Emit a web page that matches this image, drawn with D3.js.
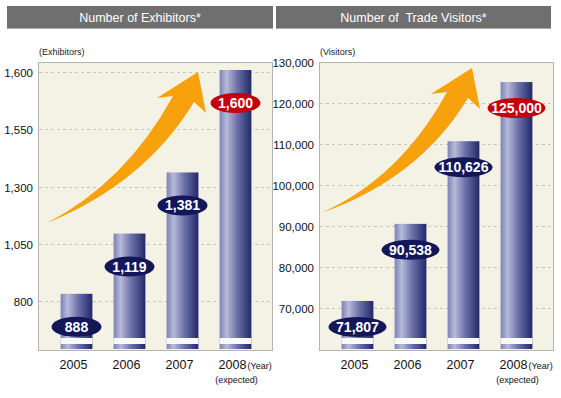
<!DOCTYPE html>
<html>
<head>
<meta charset="utf-8">
<script src="https://cdn.jsdelivr.net/npm/d3@7"></script>
<style>
  body { margin: 0; background: #fff; }
  text { font-family: "Liberation Sans", Arial, sans-serif; }
</style>
</head>
<body>
<svg id="chart" width="561" height="398"></svg>
<script>
const years = ['2005', '2006', '2007', '2008'];
const exhibitors = [888, 1119, 1381, 1600];
const visitors = [71807, 90538, 110626, 125000];
const exhibitorTicks = ['800', '1,050', '1,300', '1,550', '1,600'];
const visitorTicks = [70000, 80000, 90000, 100000, 110000, 120000, 130000];

const svg = d3.select('#chart');
const fmt = d3.format(',');

// bar gradient (cylinder look)
const defs = svg.append('defs');
const grad = defs.append('linearGradient').attr('id', 'barGrad');
[['0%', '#7c82b4'], ['22%', '#b7bad8'], ['55%', '#6c72a8'], ['100%', '#222868']].forEach((s) => {
  grad.append('stop').attr('offset', s[0]).attr('stop-color', s[1]);
});

function drawChart(opt) {
  const left = opt.left;
  const right = left + 234;
  const top = 62;
  const bottom = 350;
  const g = svg.append('g');

  // header
  g.append('rect')
    .attr('x', opt.headX).attr('y', 6)
    .attr('width', opt.headW).attr('height', 23)
    .attr('fill', '#6f6f6f');
  g.append('rect')
    .attr('x', opt.headX).attr('y', 28)
    .attr('width', opt.headW).attr('height', 1)
    .attr('fill', '#a8a8a8');
  g.append('text')
    .attr('x', opt.headX + opt.headW / 2).attr('y', 21.5)
    .attr('text-anchor', 'middle')
    .attr('font-size', 12.5)
    .attr('fill', '#fff')
    .style('white-space', 'pre')
    .text(opt.title);

  // plot area
  g.append('rect')
    .attr('x', left + 0.5).attr('y', top + 0.5)
    .attr('width', right - left).attr('height', bottom - top)
    .attr('fill', '#f4f2e4')
    .attr('stroke', '#b4b4b0');

  g.append('text')
    .attr('x', left + 1).attr('y', 55)
    .attr('font-size', 9)
    .attr('fill', '#222')
    .text(opt.unit);

  // gridlines + tick labels
  opt.ticks.forEach((t) => {
    const y = Math.round(opt.tickY(t)) + 0.5;
    if (y > top + 3) {
      g.append('line')
        .attr('x1', left + 1).attr('x2', right)
        .attr('y1', y).attr('y2', y)
        .attr('stroke', '#c9c7bb')
        .attr('stroke-dasharray', '3,3');
    }
    g.append('text')
      .attr('x', left - 5).attr('y', y)
      .attr('dy', '0.36em')
      .attr('text-anchor', 'end')
      .attr('font-size', 11.5)
      .attr('fill', '#111')
      .text(typeof t === 'number' ? fmt(t) : t);
  });

  const x = d3.scaleBand()
    .domain(years)
    .range([left + 12, left + 224])
    .paddingInner(0.4)
    .paddingOuter(0.2);

  // growth arrow
  const ax = left + opt.arrowDx;
  const ay = top + opt.arrowDy;
  const tx = ax + 9;
  const ty = ay + 161 + opt.tailDy;
  const p = d3.path();
  p.moveTo(tx, ty);
  p.quadraticCurveTo(ax + 88, ay + 120, ax + 135, ay + 34);
  p.lineTo(ax + 119, ay + 36);
  p.lineTo(ax + 160, ay + 10);
  p.lineTo(ax + 168, ay + 51);
  p.lineTo(ax + 156, ay + 40);
  p.quadraticCurveTo(ax + 107, ay + 121, tx, ty);
  p.closePath();
  g.append('path')
    .attr('d', p.toString())
    .attr('fill', '#f7a20c');

  // bars
  const bars = g.selectAll('.bar').data(opt.values).enter();
  bars.append('rect')
    .attr('x', (d, i) => x(years[i]))
    .attr('y', (d) => opt.y(d))
    .attr('width', x.bandwidth())
    .attr('height', (d) => bottom - 1 - opt.y(d))
    .attr('fill', 'url(#barGrad)');
  // break gap near the base
  bars.append('rect')
    .attr('x', (d, i) => x(years[i]))
    .attr('y', 338)
    .attr('width', x.bandwidth())
    .attr('height', 6)
    .attr('fill', '#fafaf4');

  // value bubbles
  const last = opt.values.length - 1;
  bars.append('ellipse')
    .attr('cx', (d, i) => x(years[i]) + x.bandwidth() / 2)
    .attr('cy', (d) => opt.y(d) + opt.labelOff)
    .attr('rx', opt.rx)
    .attr('ry', 10)
    .attr('fill', (d, i) => (i === last ? '#c4000c' : '#13175a'));
  bars.append('text')
    .attr('x', (d, i) => x(years[i]) + x.bandwidth() / 2)
    .attr('y', (d) => opt.y(d) + opt.labelOff)
    .attr('dy', '0.36em')
    .attr('text-anchor', 'middle')
    .attr('font-size', 14)
    .attr('font-weight', 'bold')
    .attr('fill', '#fff')
    .text((d) => fmt(d));

  // x labels
  years.forEach((yr) => {
    g.append('text')
      .attr('x', x(yr) + x.bandwidth() / 2 - 3).attr('y', 369)
      .attr('text-anchor', 'middle')
      .attr('font-size', 12.5)
      .attr('fill', '#111')
      .text(yr);
  });
  const cx4 = x(years[last]) + x.bandwidth() / 2;
  g.append('text')
    .attr('x', cx4 + 12).attr('y', 369)
    .attr('font-size', 9)
    .attr('fill', '#111')
    .text('(Year)');
  g.append('text')
    .attr('x', cx4 + 1).attr('y', 383)
    .attr('text-anchor', 'middle')
    .attr('font-size', 9)
    .attr('fill', '#111')
    .text('(expected)');
}

// exhibitors axis is drawn with a broken (piecewise) scale
const yExhib = d3.scaleLinear()
  .domain([800, 1100, 1400, 1600])
  .range([317, 238, 168, 70]);
const yExhibTicks = d3.scalePoint()
  .domain(exhibitorTicks)
  .range([301, 72]);

const yVisit = d3.scaleLinear()
  .domain([60000, 130000])
  .range([349.5, 61.5]);

drawChart({
  left: 38,
  headX: 7,
  headW: 266,
  title: 'Number of Exhibitors*',
  unit: '(Exhibitors)',
  ticks: exhibitorTicks,
  tickY: (t) => yExhibTicks(t),
  y: yExhib,
  values: exhibitors,
  labelOff: 33,
  rx: 25,
  arrowDx: 0,
  arrowDy: 0,
  tailDy: 0
});

drawChart({
  left: 319,
  headX: 276,
  headW: 275,
  title: 'Number of  Trade Visitors*',
  unit: '(Visitors)',
  ticks: visitorTicks,
  tickY: (t) => yVisit(t),
  y: yVisit,
  values: visitors,
  labelOff: 26,
  rx: 29,
  arrowDx: -7,
  arrowDy: -4,
  tailDy: -6
});
</script>
</body>
</html>
